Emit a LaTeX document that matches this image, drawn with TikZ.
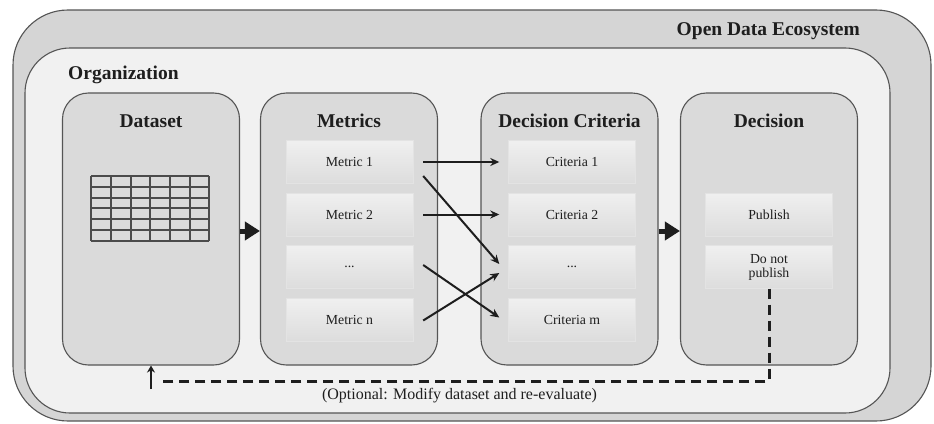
\documentclass[tikz,border=0pt]{standalone}
\usepackage{fontspec}
\setmainfont{Liberation Serif}
\usetikzlibrary{arrows.meta,positioning}

\definecolor{ecofill}{HTML}{D5D5D5}
\definecolor{orgfill}{HTML}{F1F1F1}
\definecolor{colfill}{HTML}{DADADA}
\definecolor{edge}{HTML}{555555}
\definecolor{ink}{HTML}{1E1E1E}

\tikzset{
  eco/.style={draw=edge, line width=1.1pt, fill=ecofill, rounded corners=55pt},
  org/.style={draw=edge, line width=1.1pt, fill=orgfill, rounded corners=45pt},
  column/.style={draw=edge, line width=1.1pt, fill=colfill, rounded corners=26pt,
    minimum width=177pt, minimum height=272pt, inner sep=0pt},
  coltitle/.style={font=\fontsize{19.5}{21}\selectfont\bfseries, text=ink, inner sep=0pt},
  item/.style={draw=gray!22, line width=0.4pt, top color=gray!12, bottom color=gray!27,
    minimum width=127pt, minimum height=43pt, inner sep=0pt, align=center,
    font=\fontsize{13.8}{15}\selectfont, text=ink},
  flow/.style={draw=ink, line width=2pt, -{Stealth[length=9pt,width=8pt]}},
  bigflow/.style={draw=ink, line width=5pt, -{Triangle[length=15pt,width=18pt]}},
  loop/.style={draw=ink, line width=3pt, dash pattern=on 10pt off 6pt},
  gridline/.style={draw=ink!80, line width=1.2pt}
}

\begin{document}
\begin{tikzpicture}[x=1pt,y=-1pt]
\useasboundingbox (0,0) rectangle (934,423);

% nested environment boxes
\draw[eco] (13,10) rectangle (931,421);
\draw[org] (25,48) rectangle (890,413);
\node[coltitle, anchor=east] (ecolabel) at (860,31) {Open Data Ecosystem};
\node[coltitle, anchor=west] (orglabel) at (68,75) {Organization};

% the four stage columns
\node[column] (ds) at (151,229) {};
\node[column] (mt) at (349,229) {};
\node[column] (cr) at (569.5,229) {};
\node[column] (dc) at (769,229) {};

\node[coltitle] (dsT) at (151,121) {Dataset};
\node[coltitle] (mtT) at (349,121) {Metrics};
\node[coltitle] (crT) at (569.5,121) {Decision Criteria};
\node[coltitle] (dcT) at (769,121) {Decision};

% dataset table
\foreach \x in {91,111,131,150,170,190,209}
  \draw[gridline] (\x,176) -- (\x,241);
\foreach \y in {176,187,198,208,219,230,241}
  \draw[gridline] (91,\y) -- (209,\y);

% metrics
\node[item] (m1) at (349.5,162) {Metric 1};
\node[item] (m2) at (349.5,214.5) {Metric 2};
\node[item] (m3) at (349.5,267) {...};
\node[item] (mn) at (349.5,319.5) {Metric n};

% criteria
\node[item] (c1) at (572,162) {Criteria 1};
\node[item] (c2) at (572,214.5) {Criteria 2};
\node[item] (c3) at (572,267) {...};
\node[item] (cm) at (572,319.5) {Criteria m};

% decisions
\node[item] (pub) at (769,214.5) {Publish};
\node[item] (dnp) at (769,267) {Do not\\[-1pt]publish};

% stage-to-stage arrows
\draw[bigflow] ([yshift=-2pt]ds.east) -- ([yshift=-2pt]mt.west);
\draw[bigflow] ([yshift=-2pt]cr.east) -- ([yshift=-2pt]dc.west);

% metric-to-criteria mapping
\draw[flow] ([xshift=10pt]m1.east) -- ([xshift=-9pt]c1.west);
\draw[flow] ([xshift=10pt]m2.east) -- ([xshift=-9pt]c2.west);
\draw[flow] ([xshift=10pt,yshift=-14pt]m1.east) -- ([xshift=-9pt,yshift=3pt]c3.west);
\draw[flow] ([xshift=10pt,yshift=2pt]m3.east) -- ([xshift=-9pt,yshift=2pt]cm.west);
\draw[flow] ([xshift=10pt,yshift=-1pt]mn.east) -- ([xshift=-9pt,yshift=-6pt]c3.west);

% feedback loop
\coordinate (fb) at (0,381);
\draw[loop] (dnp.south) -- (dnp.south |- fb) -- ([xshift=8pt]ds.south |- fb);
\draw[ink, line width=2.6pt, -{Stealth[length=7pt,width=8pt]}]
  ([yshift=-8pt]ds.south |- fb) -- (ds.south);
\node[font=\fontsize{16}{18}\selectfont, text=ink] (fbnote) at (459.5,396)
  {(Optional: Modify dataset and re-evaluate)};
\end{tikzpicture}
\end{document}
